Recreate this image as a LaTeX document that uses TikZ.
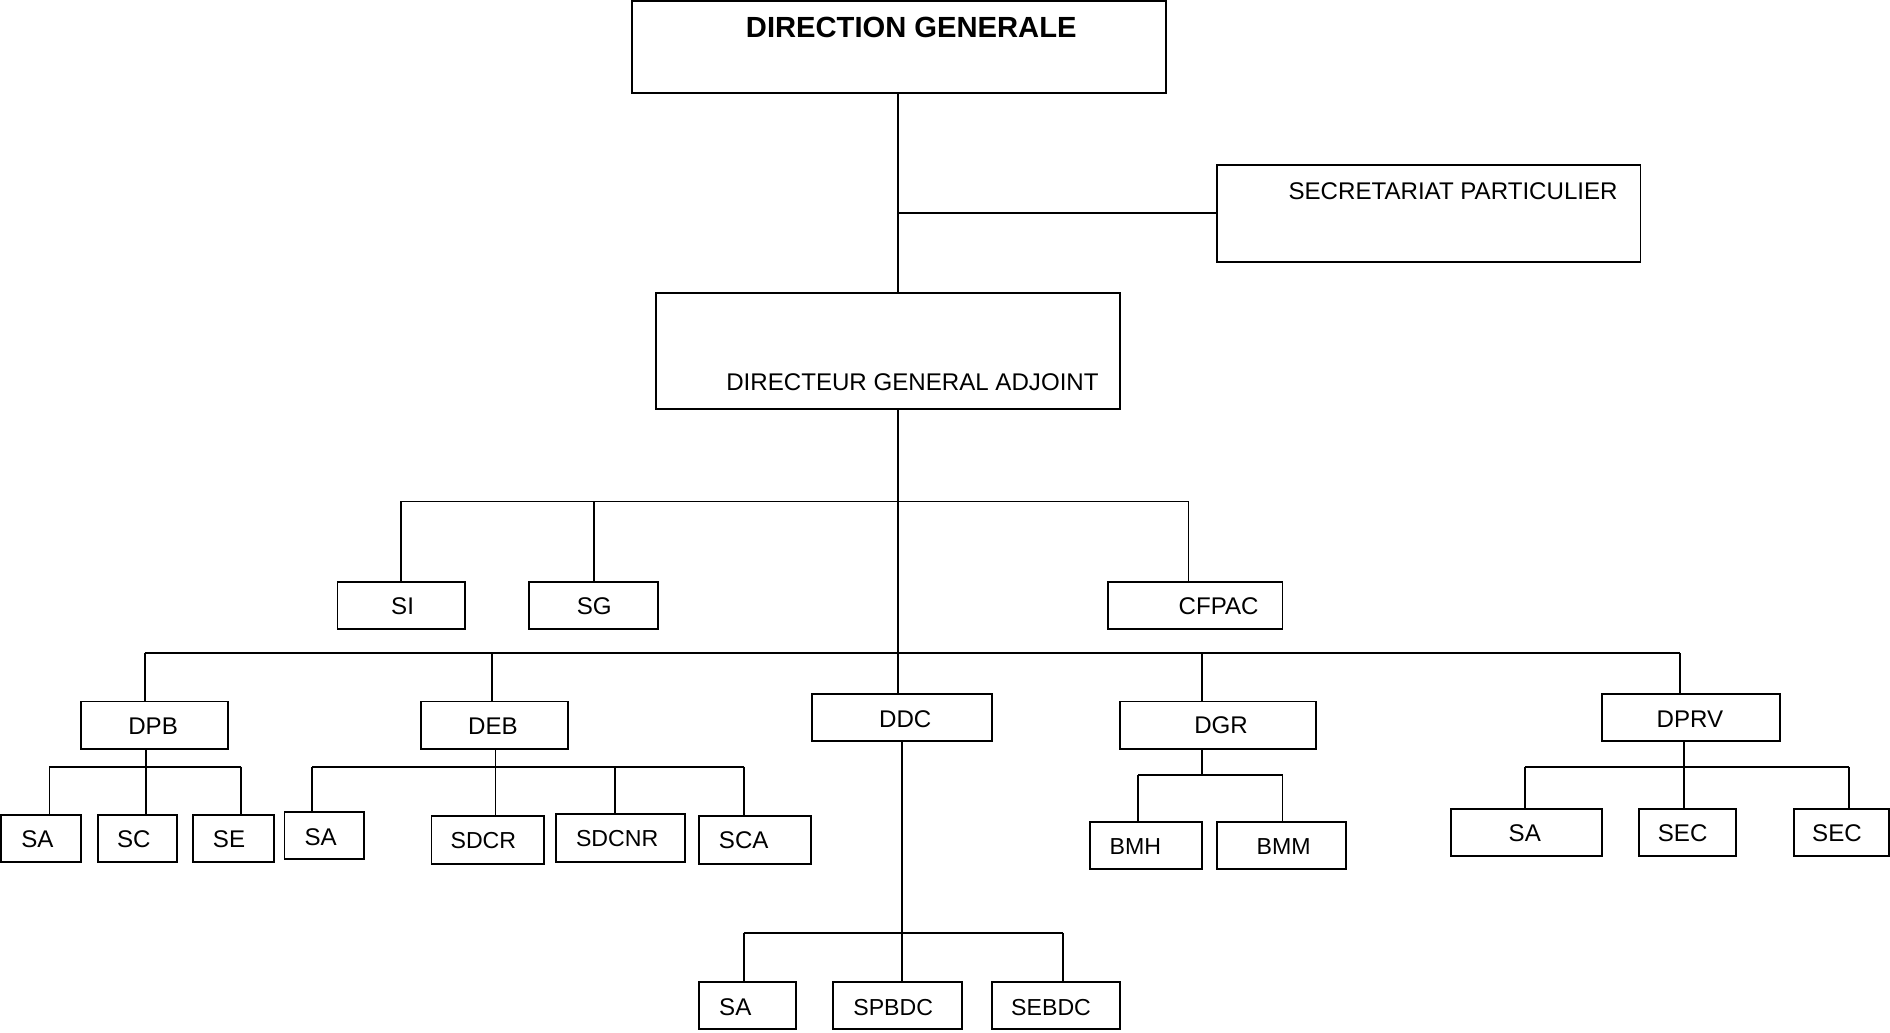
\documentclass[tikz,border=0pt]{standalone}
\usepackage{fontspec}
\setmainfont{Liberation Sans}
\begin{document}
\begin{tikzpicture}[x=0.5pt,y=-0.5pt,
  box/.style={draw=black, line width=0.8pt, rectangle, inner sep=0pt, fill=white},
  conn/.style={draw=black, line width=0.75pt},
  lbl/.style={inner sep=0pt, text height=0.716em, text depth=0pt, font=\fontsize{10}{12}\selectfont},
  lbls/.style={lbl, font=\fontsize{9.6}{11}\selectfont},
  lblb/.style={lbl, font=\fontsize{12.1}{14}\selectfont\bfseries}]
\useasboundingbox (0,0) rectangle (1568,857);
\newcommand{\bx}[5]{\node[box, minimum width={(#4-#2)*0.5pt}, minimum height={(#5-#3)*0.5pt}] (#1) at ({(#2+#4)/2},{(#3+#5)/2}) {};}
\newcommand{\drp}[4]{\coordinate (#1) at (#2,#3); \draw[conn] (#1) -- (#1 |- #4.north);}
% connectors first (boxes drawn on top)
% boxes
\bx{dg}{524}{0.8}{967}{77}
\bx{sp}{1010}{137}{1361}{217}
\bx{dga}{544}{243}{929}{339}
\bx{si}{280}{483}{386}{522}
\bx{sg}{439}{483}{546}{522}
\bx{cfpac}{919}{483}{1064}{522}
\bx{dpb}{67}{582}{189}{621}
\bx{deb}{349}{582}{471}{621}
\bx{ddc}{674}{576}{823}{615}
\bx{dgr}{929}{582}{1092}{621}
\bx{dprv}{1329}{576}{1477}{615}
\bx{sa1}{1.2}{676}{67}{715}
\bx{sc}{81}{676}{147}{715}
\bx{se}{160}{676}{227}{715}
\bx{sa2}{236}{674}{302}{713}
\bx{sdcr}{358}{677}{451}{717}
\bx{sdcnr}{461}{675}{568}{715}
\bx{sca}{580}{677}{673}{717}
\bx{sa3}{580}{815}{660}{854}
\bx{spbdc}{691}{815}{798}{854}
\bx{sebdc}{823}{815}{929}{854}
\bx{bmh}{904}{682}{997}{721}
\bx{bmm}{1010}{682}{1117}{721}
\bx{sa4}{1204}{671}{1329}{710}
\bx{sec1}{1360}{671}{1440}{710}
\bx{sec2}{1488}{671}{1566.8}{710}
% labels
\node[lblb] (t-dg) at (756,24) {DIRECTION GENERALE};
\node[lbl] (t-sp) at (1205.5,158) {SECRETARIAT PARTICULIER};
\node[lbl] (t-dga) at (757,317) {DIRECTEUR GENERAL ADJOINT};
\node[lbl] (t-si) at (334,503) {SI};
\node[lbl] (t-sg) at (493,503) {SG};
\node[lbl] (t-cfpac) at (1011,503) {CFPAC};
\node[lbl] (t-dpb) at (127,602) {DPB};
\node[lbl] (t-deb) at (409,602) {DEB};
\node[lbl] (t-ddc) at (751,596) {DDC};
\node[lbl] (t-dgr) at (1013,601) {DGR};
\node[lbl] (t-dprv) at (1402,596) {DPRV};
\node[lbl] (t-sa1) at (31,696) {SA};
\node[lbl] (t-sc) at (111,696) {SC};
\node[lbl] (t-se) at (190,696) {SE};
\node[lbl] (t-sa2) at (266,694) {SA};
\node[lbls] (t-sdcr) at (401,697) {SDCR};
\node[lbls] (t-sdcnr) at (512,695) {SDCNR};
\node[lbl] (t-sca) at (617,697) {SCA};
\node[lbl] (t-sa3) at (610,835) {SA};
\node[lbls] (t-spbdc) at (741,835) {SPBDC};
\node[lbls] (t-sebdc) at (872,835) {SEBDC};
\node[lbls] (t-bmh) at (942,702) {BMH};
\node[lbls] (t-bmm) at (1065,702) {BMM};
\node[lbl] (t-sa4) at (1265,691) {SA};
\node[lbl] (t-sec1) at (1396,691) {SEC};
\node[lbl] (t-sec2) at (1524,691) {SEC};
% top connectors
\coordinate (tr) at (745,77);
\draw[conn] (tr) -- (tr |- dga.north);
\coordinate (jsp) at (745,177);
\draw[conn] (jsp) -- (sp.west);
\coordinate (tr2) at (745,339);
\draw[conn] (tr2) -- (tr2 |- ddc.north);
% bus A
\drp{c-si}{333}{416}{si}
\drp{c-sg}{493}{416}{sg}
\drp{c-cfpac}{986}{416}{cfpac}
\draw[conn] (c-si) -- (c-cfpac);
% bus B
\drp{c-dpb}{120}{542}{dpb}
\drp{c-deb}{408}{542}{deb}
\drp{c-dgr}{997}{542}{dgr}
\drp{c-dprv}{1394}{542}{dprv}
\draw[conn] (c-dpb) -- (c-dprv);
% DPB children
\coordinate (s-dpb) at (121,636);
\draw[conn] (s-dpb |- dpb.south) -- (s-dpb);
\drp{c-sa1}{41}{636}{sa1}
\drp{c-sc}{121}{636}{sc}
\drp{c-se}{200}{636}{se}
\draw[conn] (c-sa1) -- (c-se);
% DEB children
\coordinate (s-deb) at (411,636);
\draw[conn] (s-deb |- deb.south) -- (s-deb);
\drp{c-sa2}{259}{636}{sa2}
\drp{c-sdcr}{411}{636}{sdcr}
\drp{c-sdcnr}{510}{636}{sdcnr}
\drp{c-sca}{617}{636}{sca}
\draw[conn] (c-sa2) -- (c-sca);
% DDC children
\coordinate (s-ddc) at (748,774);
\draw[conn] (s-ddc |- ddc.south) -- (s-ddc);
\drp{c-sa3}{617}{774}{sa3}
\drp{c-spbdc}{748}{774}{spbdc}
\drp{c-sebdc}{882}{774}{sebdc}
\draw[conn] (c-sa3) -- (c-sebdc);
% DGR children
\coordinate (s-dgr) at (997,643);
\draw[conn] (s-dgr |- dgr.south) -- (s-dgr);
\drp{c-bmh}{944}{643}{bmh}
\drp{c-bmm}{1064}{643}{bmm}
\draw[conn] (c-bmh) -- (c-bmm);
% DPRV children
\coordinate (s-dprv) at (1397,636);
\draw[conn] (s-dprv |- dprv.south) -- (s-dprv);
\drp{c-sa4}{1265}{636}{sa4}
\drp{c-sec1}{1397}{636}{sec1}
\drp{c-sec2}{1534}{636}{sec2}
\draw[conn] (c-sa4) -- (c-sec2);
\end{tikzpicture}
\end{document}
